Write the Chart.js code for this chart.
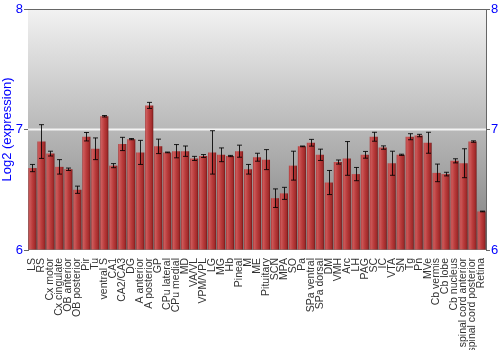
<!DOCTYPE html>
<html>
<head>
<meta charset="utf-8">
<script src="https://cdn.jsdelivr.net/npm/chart.js@4"></script>
<style>
  body { margin: 0; background: #fff; }
  #wrap { width: 500px; height: 350px; }
</style>
</head>
<body>
<div id="wrap"><canvas id="myChart" width="500" height="350"></canvas></div>
<script>
const regions = ['LS', 'RS', 'Cx motor', 'Cx cingulate', 'OB anterior', 'OB posterior', 'Pir', 'Tu',
  'ventral S', 'CA1', 'CA2/CA3', 'DG', 'A anterior', 'A posterior', 'GP', 'CPu lateral', 'CPu medial',
  'MD', 'VA/VL', 'VPM/VPL', 'LG', 'MG', 'Hb', 'Pineal', 'M', 'ME', 'Pituitary', 'SCN', 'MPA', 'SO',
  'Pa', 'SPa ventral', 'SPa dorsal', 'DM', 'VMH', 'Arc', 'LH', 'PAG', 'SC', 'IC', 'VTA', 'SN', 'Tg',
  'Pn', 'MVe', 'Cb vermis', 'Cb lobe', 'Cb nucleus', 'spinal cord anterior', 'spinal cord posterior', 'Retina'];

const expression = [6.68, 6.90, 6.80, 6.69, 6.67, 6.50, 6.94, 6.84,
  7.11, 6.70, 6.88, 6.92, 6.81, 7.20, 6.86, 6.81, 6.82,
  6.82, 6.76, 6.78, 6.81, 6.79, 6.78, 6.82, 6.67, 6.77, 6.75, 6.43, 6.47, 6.70,
  6.86, 6.89, 6.79, 6.56, 6.73, 6.76, 6.63, 6.79, 6.94, 6.85, 6.72, 6.79, 6.94,
  6.95, 6.89, 6.64, 6.63, 6.74, 6.72, 6.90, 6.32];

const errors = [0.03, 0.14, 0.02, 0.06, 0.01, 0.03, 0.035, 0.09,
  0.006, 0.017, 0.055, 0.005, 0.10, 0.025, 0.06, 0.003, 0.055,
  0.043, 0.017, 0.012, 0.18, 0.057, 0.005, 0.05, 0.04, 0.033, 0.083, 0.077, 0.05, 0.12,
  0.003, 0.028, 0.047, 0.10, 0.017, 0.14, 0.055, 0.028, 0.037, 0.014, 0.10, 0.005, 0.025,
  0.01, 0.087, 0.073, 0.015, 0.017, 0.12, 0.006, 0.003];

const yTicks = [6, 7, 8];

const barFill = function(context) {
  const chart = context.chart;
  const xs = chart.scales.x;
  if (!chart.chartArea || !xs) {
    return '#b83838';
  }
  const cx = xs.getPixelForValue(context.dataIndex);
  const half = (xs.right - xs.left) / regions.length * 0.9 / 2;
  if (!isFinite(cx) || !isFinite(half) || half <= 0) {
    return '#b83838';
  }
  const g = chart.ctx.createLinearGradient(cx - half, 0, cx + half, 0);
  g.addColorStop(0, '#a83030');
  g.addColorStop(0.15, '#cc5a5a');
  g.addColorStop(0.5, '#ba3c3c');
  g.addColorStop(0.85, '#a02a2a');
  g.addColorStop(1, '#6a1414');
  return g;
};

const plotBackground = {
  id: 'plotBackground',
  beforeDatasetsDraw(chart) {
    const { ctx, chartArea } = chart;
    const g = ctx.createLinearGradient(0, chartArea.top, 0, chartArea.bottom);
    g.addColorStop(0, '#f2f2f2');
    g.addColorStop(1, '#7e7e7e');
    ctx.save();
    ctx.fillStyle = g;
    ctx.fillRect(chartArea.left, chartArea.top, chartArea.right - chartArea.left, chartArea.bottom - chartArea.top);
    // white line at 7
    const y7 = chart.scales.y.getPixelForValue(7);
    ctx.strokeStyle = '#f4f4f4';
    ctx.lineWidth = 2;
    ctx.beginPath();
    ctx.moveTo(chartArea.left, y7);
    ctx.lineTo(chartArea.right, y7);
    ctx.stroke();
    // top border
    ctx.strokeStyle = '#666';
    ctx.lineWidth = 1;
    ctx.beginPath();
    ctx.moveTo(chartArea.left, chartArea.top + 0.5);
    ctx.lineTo(chartArea.right, chartArea.top + 0.5);
    ctx.stroke();
    ctx.restore();
  }
};

const errorBars = {
  id: 'errorBars',
  afterDatasetsDraw(chart) {
    const { ctx } = chart;
    const ys = chart.scales.y;
    const meta = chart.getDatasetMeta(0);
    ctx.save();
    ctx.strokeStyle = 'rgba(0,0,0,0.85)';
    ctx.lineWidth = 1;
    meta.data.forEach((bar, i) => {
      const x = Math.round(bar.x) + 0.5;
      const top = ys.getPixelForValue(expression[i] + errors[i]);
      const bottom = ys.getPixelForValue(expression[i] - errors[i]);
      ctx.beginPath();
      ctx.moveTo(x, top);
      ctx.lineTo(x, bottom);
      ctx.moveTo(x - 2.5, top);
      ctx.lineTo(x + 2.5, top);
      ctx.moveTo(x - 2.5, bottom);
      ctx.lineTo(x + 2.5, bottom);
      ctx.stroke();
    });
    ctx.restore();
  }
};

const data = {
  labels: regions,
  datasets: [{
    data: expression,
    backgroundColor: barFill,
    borderWidth: 0,
    barPercentage: 0.9,
    categoryPercentage: 1.0,
    base: 6
  }]
};

const yScale = function(position, width) {
  return {
    type: 'linear',
    position: position,
    min: 6,
    max: 8,
    afterBuildTicks: (axis) => { axis.ticks = yTicks.map(v => ({ value: v })); },
    afterFit: (axis) => { axis.width = width; },
    grid: { drawOnChartArea: false, color: '#666', tickLength: 4, tickColor: '#666' },
    border: { color: '#666' },
    ticks: {
      color: '#0000ff',
      font: { family: 'Liberation Sans', size: 13 },
      padding: 1
    }
  };
};

const leftY = yScale('left', 28);
leftY.title = {
  display: true,
  text: 'Log2 (expression)',
  color: '#0000ff',
  font: { family: 'Liberation Sans', size: 13 },
  padding: 0
};

const config = {
  type: 'bar',
  data: data,
  plugins: [plotBackground, errorBars],
  options: {
    responsive: false,
    animation: false,
    layout: { padding: { top: 9, left: 0, right: 0, bottom: 0 } },
    plugins: { legend: { display: false }, tooltip: { enabled: false } },
    scales: {
      x: {
        grid: { display: false },
        border: { display: false },
        afterFit: (axis) => { axis.height = 100; },
        ticks: {
          autoSkip: false,
          maxRotation: 90,
          minRotation: 90,
          padding: 0,
          color: '#333',
          font: { family: 'Liberation Sans', size: 10.5 }
        }
      },
      y: leftY,
      y2: yScale('right', 14)
    }
  }
};

const myChart = new Chart(document.getElementById('myChart'), config);
</script>
</body>
</html>
